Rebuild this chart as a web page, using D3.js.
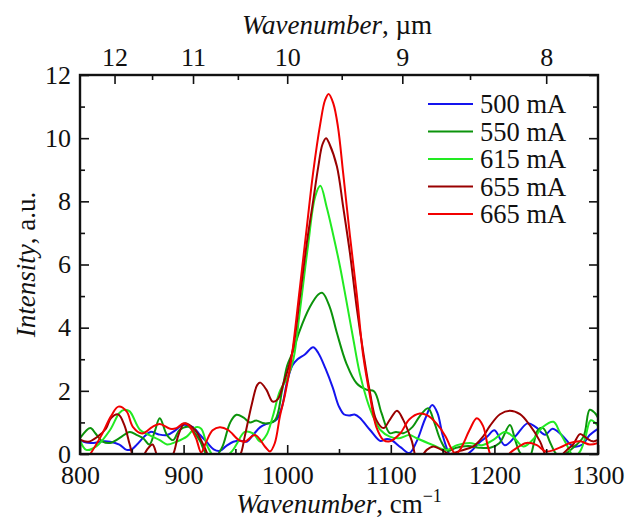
<!DOCTYPE html>
<html>
<head>
<meta charset="utf-8">
<script src="https://cdn.jsdelivr.net/npm/d3@7"></script>
<style>
  body { margin: 0; background: #fff; }
</style>
</head>
<body>
<script>
// spectra: [wavenumber cm-1, intensity a.u.]
var s500 = [[800,0.44],[806,0.36],[813,0.35],[822,0.4],[829,0.39],[838,0.3],[845,0.13],[850,0.15],[855,0.3],[862,0.55],[868,0.7],[876,0.62],[884,0.6],[892,0.75],[899,0.92],[909,0.85],[916,0.6],[922,0.39],[929,0.15],[935,0.1],[941,0.25],[948,0.39],[955,0.42],[961,0.39],[967,0.6],[974,0.85],[980,0.95],[985,1.0],[990,1.1],[995,1.5],[1000,2.3],[1005,2.8],[1010,3.0],[1017,3.15],[1025,3.38],[1030,3.2],[1037,2.7],[1044,2.1],[1050,1.5],[1055,1.25],[1060,1.22],[1065,1.25],[1070,1.15],[1080,0.76],[1090,0.41],[1095,0.47],[1100,0.45],[1110,0.2],[1118,0.03],[1125,0.4],[1133,1.1],[1140,1.55],[1145,1.3],[1150,0.6],[1155,0.1],[1160,-0.2],[1170,-0.1],[1178,0.1],[1185,0.35],[1193,0.55],[1200,0.75],[1210,0.28],[1220,0.55],[1232,0.97],[1240,0.85],[1249,0.61],[1256,0.8],[1265,0.6],[1276,0.24],[1285,0.3],[1292,0.6],[1300,0.8]];

var s550 = [[800,0.5],[810,0.82],[815,0.65],[822,0.39],[829,0.35],[838,0.5],[848,0.7],[855,0.6],[861,0.5],[867,0.3],[872,0.7],[877,1.13],[884,0.6],[890,0.44],[896,0.76],[905,0.86],[910,0.7],[916,0.4],[922,0.0],[930,-0.1],[937,0.2],[945,1.0],[951,1.24],[958,1.15],[964,1.0],[970,1.06],[978,0.97],[988,1.06],[995,2.0],[1000,2.8],[1005,3.2],[1012,3.9],[1022,4.66],[1030,5.05],[1034,5.1],[1041,4.66],[1048,3.83],[1057,2.88],[1067,2.24],[1077,2.03],[1084,1.98],[1091,1.3],[1099,0.66],[1105,0.7],[1112,0.66],[1121,0.86],[1128,1.2],[1136,1.45],[1142,1.0],[1148,0.44],[1155,0.1],[1163,0.2],[1175,0.25],[1185,0.2],[1196,0.2],[1205,0.35],[1215,0.92],[1220,0.45],[1225,0.03],[1233,-0.15],[1242,0.76],[1247,0.82],[1254,0.35],[1260,0.0],[1268,0.0],[1276,0.2],[1286,0.55],[1292,1.4],[1297,1.3],[1300,1.15]];

var s615 = [[800,0.44],[806,0.13],[816,0.25],[829,0.76],[838,1.3],[843,1.4],[848,1.35],[858,0.76],[867,0.6],[877,0.44],[884,0.3],[893,0.39],[903,0.55],[912,0.85],[917,0.8],[923,0.25],[930,-0.1],[940,-0.1],[947,0.1],[951,0.3],[959,0.7],[967,0.65],[974,0.39],[980,0.6],[986,1.18],[993,2.0],[1000,2.4],[1006,3.0],[1012,4.46],[1020,6.57],[1027,8.15],[1032,8.49],[1038,7.83],[1044,7.0],[1051,5.93],[1057,4.87],[1064,3.6],[1070,2.56],[1077,1.71],[1083,1.18],[1090,0.76],[1099,0.55],[1108,0.5],[1118,0.6],[1125,0.5],[1141,0.28],[1154,0.13],[1164,0.28],[1176,0.35],[1188,0.28],[1199,0.45],[1210,0.7],[1218,0.55],[1228,0.24],[1237,0.45],[1247,0.86],[1257,1.02],[1263,0.7],[1270,0.28],[1277,-0.1],[1283,0.1],[1288,0.55],[1293,1.07],[1300,0.9]];

var s655 = [[800,0.45],[808,0.39],[817,0.55],[825,0.8],[830,1.14],[837,1.25],[843,0.9],[848,0.3],[853,-0.2],[858,-0.2],[865,0.15],[870,0.3],[875,-0.1],[882,-0.4],[890,0.0],[895,0.6],[901,0.97],[911,0.76],[920,0.23],[928,-0.3],[940,-0.4],[950,-0.2],[955,0.0],[959,0.55],[966,1.6],[971,2.18],[974,2.26],[980,2.03],[986,1.66],[991,1.74],[996,2.2],[1000,2.6],[1006,3.4],[1012,4.9],[1019,6.7],[1025,8.0],[1030,9.1],[1034,9.8],[1037.5,10.0],[1041,9.8],[1048,9.1],[1054,7.83],[1060.6,6.35],[1067,4.66],[1073.5,3.2],[1080,1.93],[1086,1.08],[1093,0.82],[1099,1.08],[1106,1.37],[1112,1.08],[1120,0.44],[1126,-0.2],[1134.7,0.13],[1141,0.24],[1150.7,0.1],[1157,0.0],[1166.8,0.1],[1179.7,0.24],[1189,0.55],[1195.7,0.89],[1205.4,1.26],[1215,1.37],[1224.7,1.26],[1234,0.92],[1244,0.4],[1251,-0.1],[1260,-0.15],[1270,0.13],[1276,0.3],[1282.6,0.63],[1289,0.5],[1295,0.4],[1300,0.45]];

var s665 = [[800,-0.5],[810,0.0],[820,0.55],[830,1.2],[837,1.5],[845,1.35],[851,0.86],[860,0.65],[870,0.86],[877,0.95],[887,0.8],[893,0.82],[900,0.97],[905,0.9],[912,0.5],[917,0.05],[922,0.4],[928,0.75],[935,0.85],[943,0.76],[953,0.45],[959,0.39],[969,0.6],[978.6,0.23],[983.4,0.08],[988,0.34],[993,1.2],[998,1.9],[1004,3.0],[1012,5.2],[1019,7.2],[1025,8.9],[1032,10.47],[1036.5,11.2],[1040,11.4],[1044.5,11.1],[1049,10.36],[1054,8.9],[1060.6,6.9],[1067,5.1],[1073.5,3.08],[1080,1.82],[1086,0.86],[1093,0.44],[1099,0.4],[1109,0.65],[1118,1.1],[1128,1.28],[1135,1.23],[1144,0.97],[1153,0.55],[1158,0.2],[1163,0.0],[1168,0.2],[1176,0.76],[1183,1.13],[1189,0.89],[1194,0.2],[1200,-0.3],[1208,-0.3],[1215,0.03],[1222,0.2],[1231,0.35],[1241,0.28],[1250,0.08],[1263,0.2],[1273,0.35],[1283,0.4],[1292,0.3],[1300,0.35]];

var seriesNames = ["500 mA", "550 mA", "615 mA", "655 mA", "665 mA"];
var seriesData = [s500, s550, s615, s655, s665];
var seriesColors = ["#1414ee", "#0b930b", "#22ea22", "#990000", "#f20000"];

var xTicks = [800, 900, 1000, 1100, 1200, 1300];
var xMinor = [850, 950, 1050, 1150, 1250];
var yTicks = [0, 2, 4, 6, 8, 10, 12];
var yMinor = [1, 3, 5, 7, 9, 11];
var umTicks = [12, 11, 10, 9, 8];
var umMinor = [11.5, 10.5, 9.5, 8.5];

var serif = "'Liberation Serif'";

function init() {
    var W = 635, H = 523;
    var m = {top: 75, right: 37, bottom: 69, left: 80};
    var w = W - m.left - m.right;
    var h = H - m.top - m.bottom;

    var svg = d3.select("body").append("svg")
        .attr("width", W)
        .attr("height", H);

    var g = svg.append("g")
        .attr("transform", "translate(" + m.left + "," + m.top + ")");

    var x = d3.scaleLinear().domain([800, 1300]).range([0, w]);
    var y = d3.scaleLinear().domain([0, 12]).range([h, 0]);

    g.append("clipPath").attr("id", "plot")
        .append("rect").attr("width", w).attr("height", h);

    // lines
    var line = d3.line()
        .x(function(d) { return x(d[0]); })
        .y(function(d) { return y(d[1]); })
        .curve(d3.curveCatmullRom.alpha(0.5));

    g.append("g").attr("clip-path", "url(#plot)")
        .selectAll("path")
        .data(seriesData)
        .enter()
        .append("path")
        .attr("d", line)
        .attr("fill", "none")
        .attr("stroke", function(d, i) { return seriesColors[i]; })
        .attr("stroke-width", 2);

    // axes, ticks inward
    function style(ax) {
        ax.select(".domain").remove();
        ax.selectAll("line").attr("stroke", "#111").attr("stroke-width", 1.6);
        ax.selectAll("text")
            .style("font-family", serif)
            .style("font-size", "26px")
            .attr("fill", "#111");
    }

    g.append("g").attr("transform", "translate(0," + h + ")")
        .call(d3.axisBottom(x).tickValues(xTicks).tickSize(-9).tickPadding(12).tickFormat(d3.format("d")))
        .call(style);
    g.append("g").attr("transform", "translate(0," + h + ")")
        .call(d3.axisBottom(x).tickValues(xMinor).tickSize(-5).tickFormat(""))
        .call(style);

    g.append("g")
        .call(d3.axisLeft(y).tickValues(yTicks).tickSize(-9).tickPadding(9))
        .call(style);
    g.append("g").call(d3.axisLeft(y).tickValues(yMinor).tickSize(-5).tickFormat("")).call(style);

    g.append("g").attr("transform", "translate(" + w + ",0)")
        .call(d3.axisRight(y).tickValues(yTicks).tickSize(-9).tickFormat("")).call(style);
    g.append("g").attr("transform", "translate(" + w + ",0)")
        .call(d3.axisRight(y).tickValues(yMinor).tickSize(-5).tickFormat("")).call(style);

    // top axis in micrometres
    g.append("g")
        .call(d3.axisTop(x).tickValues(umTicks.map(function(u) { return 10000 / u; }))
            .tickSize(-9).tickPadding(9)
            .tickFormat(function(d) { return Math.round(10000 / d); }))
        .call(style);
    g.append("g")
        .call(d3.axisTop(x).tickValues(umMinor.map(function(u) { return 10000 / u; }))
            .tickSize(-5).tickFormat(""))
        .call(style);

    // frame
    g.append("rect").attr("width", w).attr("height", h)
        .attr("fill", "none").attr("stroke", "#111").attr("stroke-width", 2.4);

    // axis titles
    var xt = svg.append("text")
        .attr("x", m.left + w / 2).attr("y", 513)
        .attr("text-anchor", "middle")
        .style("font-family", serif).style("font-size", "27px").attr("fill", "#111");
    xt.append("tspan").style("font-style", "italic").text("Wavenumber");
    xt.append("tspan").text(", cm");
    xt.append("tspan").attr("dy", -11).style("font-size", "18px").text("\u22121");

    var tt = svg.append("text")
        .attr("x", m.left + w / 2 - 2).attr("y", 34)
        .attr("text-anchor", "middle")
        .style("font-family", serif).style("font-size", "27px").attr("fill", "#111");
    tt.append("tspan").style("font-style", "italic").text("Wavenumber");
    tt.append("tspan").text(", \u00b5m");

    var yt = svg.append("text")
        .attr("transform", "translate(35," + (m.top + h / 2) + ") rotate(-90)")
        .attr("text-anchor", "middle")
        .style("font-family", serif).style("font-size", "27px").attr("fill", "#111");
    yt.append("tspan").style("font-style", "italic").text("Intensity");
    yt.append("tspan").text(", a.u.");

    // legend
    var leg = svg.append("g").selectAll("g")
        .data(seriesNames)
        .enter()
        .append("g")
        .attr("transform", function(d, i) { return "translate(428," + (104 + i * 27.5) + ")"; });
    leg.append("line")
        .attr("x1", 0).attr("x2", 45)
        .attr("stroke", function(d, i) { return seriesColors[i]; })
        .attr("stroke-width", 2);
    leg.append("text")
        .attr("x", 52).attr("dy", "0.35em")
        .style("font-family", serif).style("font-size", "26.5px").attr("fill", "#111")
        .text(function(d) { return d; });
}

window.onload = init;
</script>
</body>
</html>
